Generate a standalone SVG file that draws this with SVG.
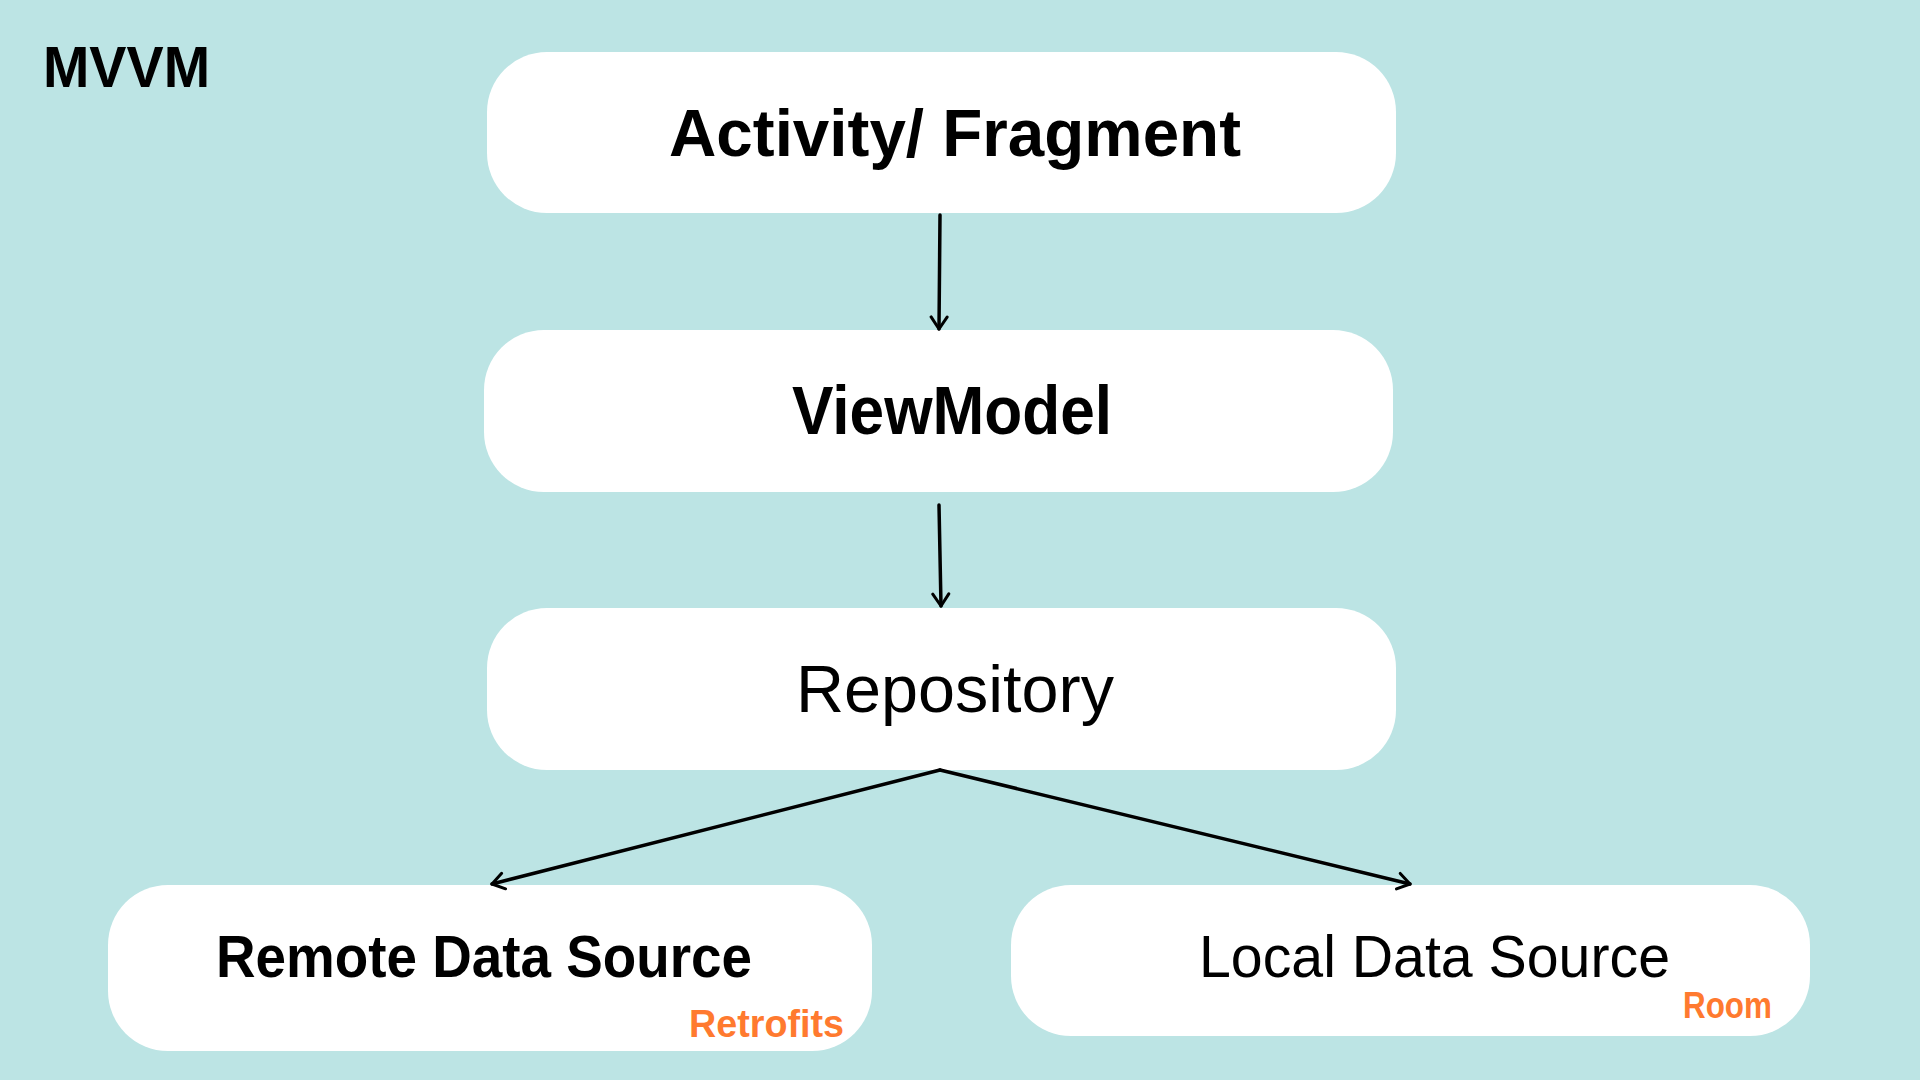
<svg xmlns="http://www.w3.org/2000/svg" width="1920" height="1080" viewBox="0 0 1920 1080">
<defs>
<marker id="arr" viewBox="0 0 16 20" refX="14" refY="10" markerWidth="16" markerHeight="20" markerUnits="userSpaceOnUse" orient="auto">
<path d="M2,2 L14,10 L2,18" fill="none" stroke="#000" stroke-width="3" stroke-linecap="round" stroke-linejoin="round"/>
</marker>
</defs>
<style>
.node{fill:#ffffff}
.t{font-family:"Liberation Sans","Noto Sans",sans-serif;fill:#000}
.b{font-weight:bold}
.o{fill:#FF7A2F;font-weight:bold}
.c{fill:none;stroke:#000;stroke-width:3.5;stroke-linecap:round}
</style>
<rect width="1920" height="1080" fill="#BCE4E4"/>
<text class="t" x="43" y="87" font-size="58" font-weight="600" textLength="167" lengthAdjust="spacingAndGlyphs">MVVM</text>
<g id="activity">
<rect class="node" x="487" y="52" width="909" height="161" rx="60" ry="60"/>
<text class="t b" x="669" y="156" font-size="66" textLength="572" lengthAdjust="spacingAndGlyphs">Activity/ Fragment</text>
</g>
<g id="viewmodel">
<rect class="node" x="484" y="330" width="909" height="162" rx="60" ry="60"/>
<text class="t b" x="792" y="434" font-size="68" textLength="320" lengthAdjust="spacingAndGlyphs">ViewModel</text>
</g>
<g id="repository">
<rect class="node" x="487" y="608" width="909" height="162" rx="60" ry="60"/>
<text class="t" x="796" y="712" font-size="66" textLength="318" lengthAdjust="spacingAndGlyphs">Repository</text>
</g>
<g id="remote">
<rect class="node" x="108" y="885" width="764" height="166" rx="60" ry="60"/>
<text class="t b" x="216" y="977" font-size="59" textLength="536" lengthAdjust="spacingAndGlyphs">Remote Data Source</text>
<text class="t o" x="689" y="1037" font-size="38" textLength="155" lengthAdjust="spacingAndGlyphs">Retrofits</text>
</g>
<g id="local">
<rect class="node" x="1011" y="885" width="799" height="151" rx="60" ry="60"/>
<text class="t" x="1199" y="977" font-size="59" textLength="471" lengthAdjust="spacingAndGlyphs">Local Data Source</text>
<text class="t o" x="1683" y="1018" font-size="36" textLength="89" lengthAdjust="spacingAndGlyphs">Room</text>
</g>
<g id="connectors">
<line class="c" x1="940" y1="215" x2="939" y2="329" marker-end="url(#arr)"/>
<line class="c" x1="939" y1="505" x2="941" y2="606" marker-end="url(#arr)"/>
<line class="c" x1="940" y1="770" x2="492" y2="884" marker-end="url(#arr)"/>
<line class="c" x1="940" y1="770" x2="1410" y2="884" marker-end="url(#arr)"/>
</g>
</svg>
